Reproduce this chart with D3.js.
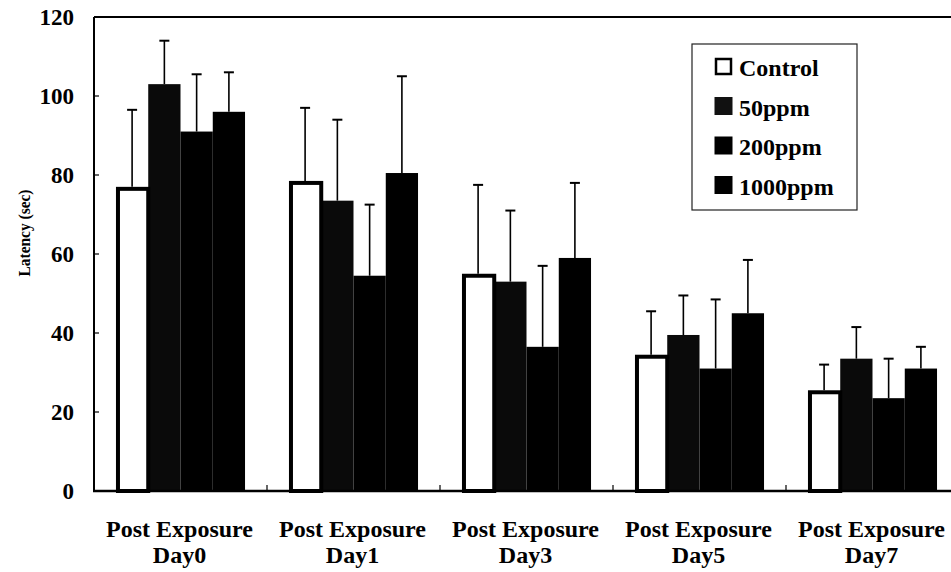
<!DOCTYPE html>
<html>
<head>
<meta charset="utf-8">
<script src="https://cdn.jsdelivr.net/npm/d3@7"></script>
</head>
<body style="margin:0">
<div id="wrap" style="position:relative;width:951px;height:572px;background:#fff">
<svg id="chart" width="951" height="572"></svg>
</div>
<script>
// Latency by post-exposure day and dose group (mean + SD)
const categories = ["Day0", "Day1", "Day3", "Day5", "Day7"];
const categoryPrefix = "Post Exposure";
const groups = ["Control", "50ppm", "200ppm", "1000ppm"];
const control   = [77, 78.5, 55, 34.5, 25.5];
const ppm50     = [103, 73.5, 53, 39.5, 33.5];
const ppm200    = [91, 54.5, 36.5, 31, 23.5];
const ppm1000   = [96, 80.5, 59, 45, 31];
const controlUp = [96.5, 97, 77.5, 45.5, 32];
const ppm50Up   = [114, 94, 71, 49.5, 41.5];
const ppm200Up  = [105.5, 72.5, 57, 48.5, 33.5];
const ppm1000Up = [106, 105, 78, 58.5, 36.5];
const yTicks = [0, 20, 40, 60, 80, 100, 120];
const yLabel = "Latency (sec)";

const means = [control, ppm50, ppm200, ppm1000];
const uppers = [controlUp, ppm50Up, ppm200Up, ppm1000Up];
const fills = ["#fff", "#0a0a0a", "#000", "#000"];

const svg = d3.select("#chart");
const plotL = 94, plotR = 959, plotT = 17, plotB = 491;

function label(sel, size) {
  return sel.attr("font-family", "Liberation Serif").attr("font-weight", "bold")
    .attr("font-size", size);
}

const x = d3.scaleBand().domain(categories).range([plotL, plotR])
  .paddingInner(0.254).paddingOuter(0.127);
const xs = d3.scaleBand().domain(groups).range([0, x.bandwidth()]);
const y = d3.scaleLinear().domain([0, 120]).range([plotB, plotT]);

// bars
const bars = [];
groups.forEach((g, gi) => categories.forEach((c, ci) => {
  bars.push({ g, gi, c, v: means[gi][ci], up: uppers[gi][ci] });
}));

// error bars (upper only), drawn behind the bars
const eb = svg.append("g");
bars.forEach(d => {
  const cx = x(d.c) + xs(d.g) + xs.bandwidth() / 2;
  eb.append("line").attr("x1", cx).attr("x2", cx)
    .attr("y1", y(d.v)).attr("y2", y(d.up))
    .attr("stroke", "#000").attr("stroke-width", 1.6);
  eb.append("line").attr("x1", cx - 5).attr("x2", cx + 5)
    .attr("y1", y(d.up)).attr("y2", y(d.up))
    .attr("stroke", "#000").attr("stroke-width", 2);
});

const bg = svg.append("g");
bars.filter(d => d.gi > 0).forEach(d => {
  bg.append("rect")
    .attr("x", x(d.c) + xs(d.g)).attr("width", xs.bandwidth())
    .attr("y", y(d.v)).attr("height", y(0) - y(d.v))
    .attr("fill", fills[d.gi]);
});
bars.filter(d => d.gi === 0).forEach(d => {
  bg.append("rect")
    .attr("x", x(d.c) + xs(d.g) + 2).attr("width", xs.bandwidth() - 2)
    .attr("y", y(d.v) + 2).attr("height", y(0) - y(d.v) - 2)
    .attr("fill", "#fff").attr("stroke", "#000").attr("stroke-width", 4);
});

// frame
svg.append("line").attr("x1", plotL).attr("x2", 951).attr("y1", plotT).attr("y2", plotT)
  .attr("stroke", "#000").attr("stroke-width", 2.2);
svg.append("line").attr("x1", plotL).attr("x2", plotL).attr("y1", plotT).attr("y2", plotB)
  .attr("stroke", "#000").attr("stroke-width", 2);
svg.append("line").attr("x1", plotL - 1).attr("x2", 951).attr("y1", plotB).attr("y2", plotB)
  .attr("stroke", "#000").attr("stroke-width", 2.5);

// y axis ticks (inward) and labels
const yAxis = svg.append("g");
yTicks.forEach(t => {
  if (t > 0 && t < 120) {
    yAxis.append("line").attr("x1", plotL).attr("x2", plotL + 5)
      .attr("y1", y(t)).attr("y2", y(t)).attr("stroke", "#000").attr("stroke-width", 1.2);
  }
  label(yAxis.append("text"), 23).attr("x", 74).attr("y", y(t) + 8)
    .attr("text-anchor", "end").text(t);
});

// x axis: boundary ticks and two-line category labels
categories.forEach((c, i) => {
  if (i > 0) {
    const bx = x.range()[0] + i * x.step();
    svg.append("line").attr("x1", bx).attr("x2", bx)
      .attr("y1", plotB).attr("y2", plotB - 6)
      .attr("stroke", "#000").attr("stroke-width", 1.2);
  }
  const cx = x(c) + x.bandwidth() / 2;
  label(svg.append("text"), 24).attr("x", cx - 1).attr("y", 537)
    .attr("text-anchor", "middle").text(categoryPrefix);
  label(svg.append("text"), 24).attr("x", cx - 1).attr("y", 563)
    .attr("text-anchor", "middle").text(c);
});

// y axis title
label(svg.append("text"), 17)
  .attr("transform", "translate(30,233) rotate(-90)")
  .attr("text-anchor", "middle")
  .attr("textLength", 87).attr("lengthAdjust", "spacingAndGlyphs")
  .text(yLabel);

// legend
const lg = svg.append("g");
lg.append("rect").attr("x", 692).attr("y", 44).attr("width", 165).attr("height", 166)
  .attr("fill", "#fff").attr("stroke", "#222").attr("stroke-width", 1.2);
groups.forEach((g, i) => {
  const base = 76 + i * 39.5;
  if (i === 0) {
    lg.append("rect").attr("x", 716).attr("y", base - 17).attr("width", 15).attr("height", 15)
      .attr("fill", "#fff").attr("stroke", "#000").attr("stroke-width", 2.5);
  } else {
    lg.append("rect").attr("x", 714.5).attr("y", base - 18.5).attr("width", 18).attr("height", 18)
      .attr("fill", i === 1 ? "#111" : "#000");
  }
  label(lg.append("text"), 24).attr("x", 739).attr("y", base).text(g);
});
</script>
</body>
</html>
